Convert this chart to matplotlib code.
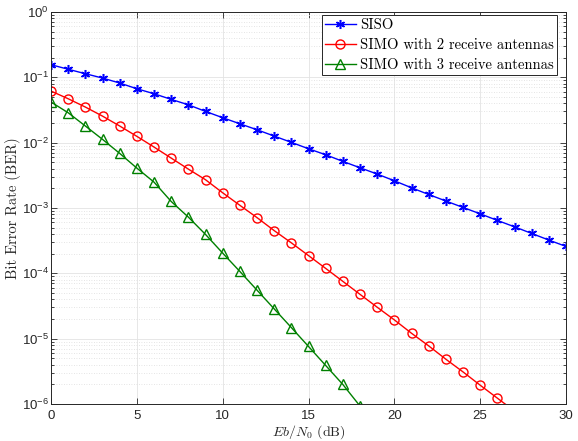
import numpy as np
import matplotlib
matplotlib.use("Agg")
import matplotlib.pyplot as plt
from matplotlib.ticker import LogLocator, FixedLocator, FuncFormatter, NullFormatter

# --- Data (Eb/N0 in dB, BER) ---
ebn0_db = list(range(0, 31))

ber_siso = [0.156, 0.133, 0.1136, 0.0975, 0.0818, 0.0669, 0.0561, 0.0460, 0.0380, 0.0301,
            0.0241, 0.01946, 0.01577, 0.01262, 0.01011, 0.00807, 0.00653, 0.00517, 0.00413, 0.00331,
            0.00261, 2.04e-3, 1.61e-3, 1.28e-3, 1.02e-3, 8.15e-4, 6.46e-4, 5.15e-4, 4.08e-4, 3.23e-4,
            2.58e-4]

ebn0_simo2 = list(range(0, 28))
ber_simo2 = [0.0617, 0.0470, 0.0351, 0.0255, 0.0180, 0.0125, 0.00857, 0.00581, 0.00394, 0.00271,
             1.71e-3, 1.10e-3, 7.13e-4, 4.51e-4, 2.93e-4, 1.87e-4, 1.19e-4, 7.54e-5, 4.77e-5, 3.03e-5,
             1.94e-5, 1.21e-5, 7.76e-6, 4.85e-6, 3.10e-6, 1.94e-6, 1.23e-6, 7.8e-7]

ebn0_simo3 = list(range(0, 20))
ber_simo3 = [0.0419, 0.0287, 0.0180, 0.01124, 0.00686, 0.00408, 0.00249, 1.26e-3, 7.26e-4, 3.94e-4,
             2.04e-4, 1.07e-4, 5.53e-5, 2.86e-5, 1.48e-5, 7.6e-6, 3.89e-6, 1.99e-6, 9.3e-7, 4.5e-7]

labels = ["SISO", "SIMO with 2 receive antennas", "SIMO with 3 receive antennas"]
x_ticks = [0, 5, 10, 15, 20, 25, 30]

# --- Fonts: MATLAB-ish sans ticks, LaTeX-ish labels ---
plt.rcParams["font.family"] = ["Liberation Sans", "DejaVu Sans"]
plt.rcParams["mathtext.fontset"] = "custom"
plt.rcParams["mathtext.rm"] = "Liberation Sans"
plt.rcParams["mathtext.it"] = "Liberation Sans:italic"
plt.rcParams["mathtext.bf"] = "Liberation Sans:bold"
plt.rcParams["axes.unicode_minus"] = False

AX_COLOR = "#262626"
W, H = 578, 441
L, R, T, B = 51, 566, 12, 404   # axes box in pixels

fig = plt.figure(figsize=(W / 100, H / 100), dpi=100)
ax = fig.add_axes([L / W, 1 - B / H, (R - L) / W, (B - T) / H])

ax.semilogy(ebn0_db, ber_siso, color="#0000ff", lw=1.0, marker=(6, 2, 0), ms=6.5,
            mew=1.1, label=labels[0])
ax.semilogy(ebn0_simo2, ber_simo2, color="#ff0000", lw=1.0, marker="o", ms=6.5,
            mfc="none", mew=1.0, label=labels[1])
ax.semilogy(ebn0_simo3, ber_simo3, color="#008000", lw=1.0, marker="^", ms=6.5,
            mfc="none", mew=1.0, label=labels[2])

ax.set_xlim(0, 30)
ax.set_ylim(1e-6, 1)
ax.xaxis.set_major_locator(FixedLocator(x_ticks))
ax.yaxis.set_major_locator(LogLocator(base=10, numticks=10))
ax.yaxis.set_minor_locator(LogLocator(base=10, subs=np.arange(2, 10), numticks=20))
ax.yaxis.set_minor_formatter(NullFormatter())
ax.yaxis.set_major_formatter(FuncFormatter(lambda v, p: r"$10^{%d}$" % int(round(np.log10(v)))))

# grid: solid major, dotted minor
ax.grid(True, which="major", color="#e3e3e3", lw=0.6, ls="-")
ax.grid(True, which="minor", axis="y", color="#dcdcdc", lw=0.6, ls=(0, (1, 2)))
ax.set_axisbelow(True)

ax.tick_params(which="both", direction="in", top=True, right=True, colors=AX_COLOR,
               labelsize=9.5, width=0.6)
ax.tick_params(which="major", length=4)
ax.tick_params(which="minor", length=2, labelleft=False, labelbottom=False)
ax.tick_params(axis="x", pad=4)
ax.tick_params(axis="y", pad=1.5)
for s in ax.spines.values():
    s.set_color(AX_COLOR)
    s.set_linewidth(0.7)

ax.set_xlabel(r"$Eb/N_0$ (dB)", family="cmr10", fontsize=10, math_fontfamily="cm",
              color=AX_COLOR)
ax.set_ylabel("Bit Error Rate (BER)", family="cmr10", fontsize=10.5, color=AX_COLOR)
ax.xaxis.set_label_coords(0.5, (B - 423) / (B - T))
ax.yaxis.set_label_coords(-0.058, 0.5)

leg = ax.legend(loc="upper right", bbox_to_anchor=((557 - L) / (R - L), 1 - 3 / (B - T)),
                prop={"family": "cmr10", "size": 10.5},
                fancybox=False, framealpha=1, edgecolor=AX_COLOR,
                borderpad=0.22, labelspacing=0.43, handlelength=2.1,
                handletextpad=0.3, borderaxespad=0)
leg.get_frame().set_linewidth(0.7)

fig.savefig("out.png", dpi=100)
